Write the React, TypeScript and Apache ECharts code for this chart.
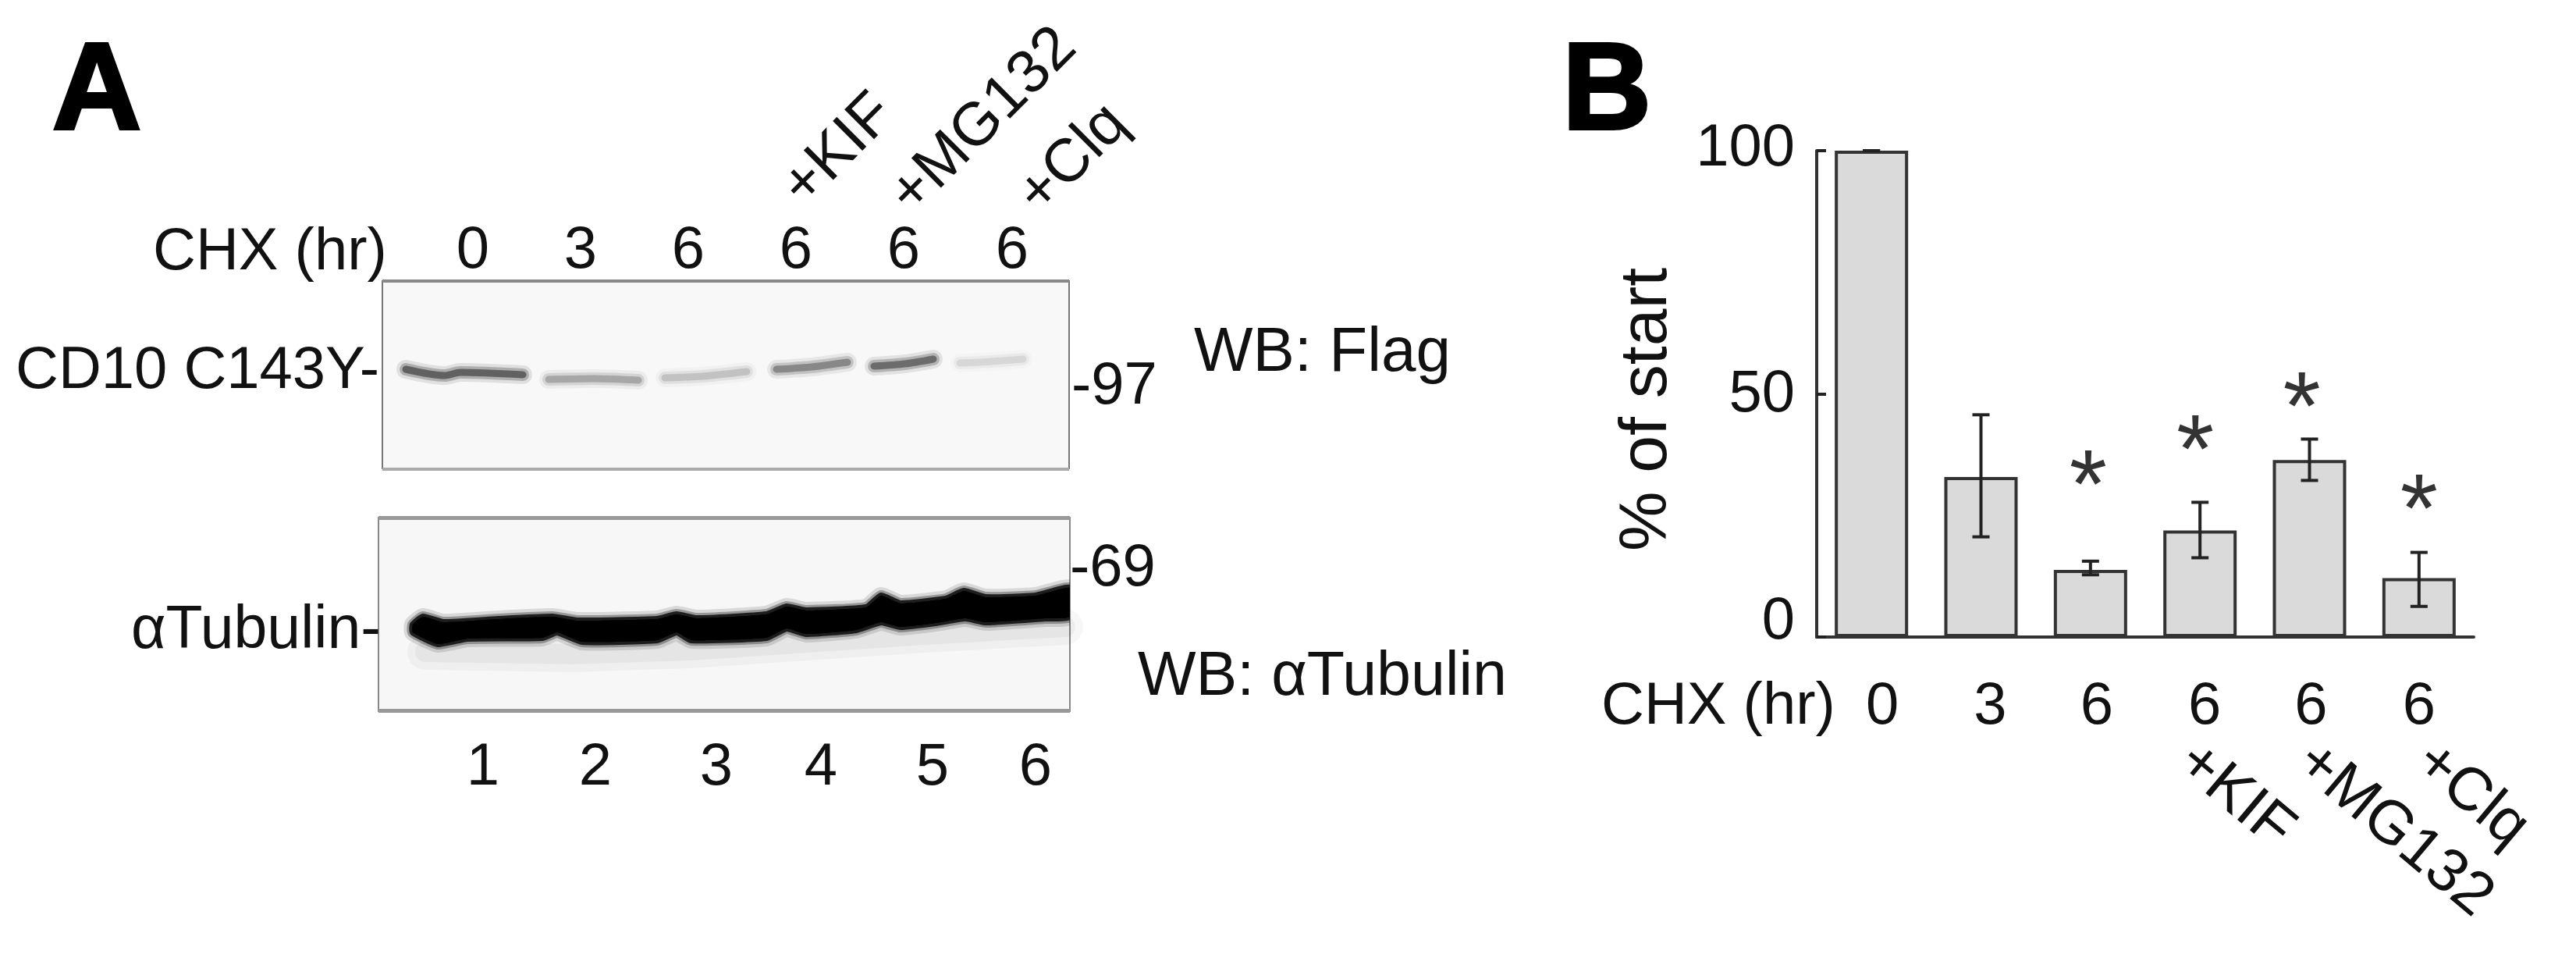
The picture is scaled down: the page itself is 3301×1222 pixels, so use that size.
import React, { useEffect, useRef } from "react";
import * as echarts from "echarts";

// Panel B data
const chxCategories = ["0", "3", "6", "6", "6", "6"];
const meanPercent = [100, 32.9, 13.8, 21.9, 36.4, 12.1];
const errLow = [100, 20.6, 12.8, 16.3, 32.2, 6.3];
const errHigh = [100, 45.7, 15.6, 27.7, 40.7, 17.4];
const starValues = [null, null, 34.7, 41.9, 50.7, 29.7];
const yTicks = [0, 50, 100];
const bottomTreatments = ["+KIF", "+MG132", "+Clq"];

// Panel A texts
const laneTimes = ["0", "3", "6", "6", "6", "6"];
const laneNumbers = ["1", "2", "3", "4", "5", "6"];
const topTreatments = ["+KIF", "+MG132", "+Clq"];

// Panel A bands: [position along blot, migration] read from the blot
const flagLanes = [
  [[30, 113], [80, 121], [100, 117], [180, 120]],
  [[213, 126], [270, 125], [328, 127]],
  [[362, 124], [410, 122], [467, 116]],
  [[505, 113], [550, 110], [596, 104]],
  [[630, 109], [670, 106], [706, 100]],
  [[740, 105], [780, 103], [821, 100]],
];
const flagLaneDarkness = [0.8, 0.38, 0.24, 0.55, 0.72, 0.14];
const tubulinOutline = [
  [44, 137], [57, 127], [83, 134], [153, 130], [223, 127], [255, 132], [357, 130], [382, 124], [408, 129], [497, 124],
  [523, 114], [548, 119], [625, 115], [644, 100], [669, 110], [727, 104], [750, 94], [778, 102], [842, 100], [886, 90],
  [886, 127], [854, 129], [778, 134], [752, 129], [714, 135], [669, 140], [644, 134], [612, 144], [548, 149], [523, 142],
  [497, 154], [401, 157], [382, 147], [357, 157], [261, 159], [229, 147], [210, 154], [114, 155], [76, 162], [44, 147],
];
const tubulinSmear = [[60, 172], [250, 175], [400, 170], [550, 160], [700, 150], [880, 140]];

const FONT = '"Liberation Sans", Arial, sans-serif';
const INK = "#111";

const txt = (text: string, x: number, y: number, size = 76, align = "left", rotation = 0, extra: any = {}) => ({
  type: "text",
  x,
  y,
  rotation,
  silent: true,
  style: {
    text,
    fill: extra.fill || INK,
    font: `${extra.weight || "normal"} ${size}px ${FONT}`,
    textAlign: align,
    textVerticalAlign: "middle",
    align,
    verticalAlign: "middle",
    ...(extra.stroke ? { stroke: extra.fill || INK, lineWidth: extra.stroke } : {}),
  },
});

const laneTimeX = [606, 744, 882, 1020, 1158, 1297];
const laneNumberX = [619, 763, 918, 1052, 1195, 1327];
const topTreatmentPos = [[1012, 248], [1150, 258], [1314, 258]];
const bottomTreatmentPos = [[2804, 962], [2956, 962], [3108, 962]];
const labelShift = [14, 12, 8, 6, 2, 0];
const yLabelLift: Record<string, number> = { "0": 50, "50": 8, "100": 16 };
const starShift = [0, 0, -3, -6, -10, 0];

const graphicEls: any[] = [
  txt("A", 67, 110, 158, "left", 0, { weight: "bold", stroke: 4, fill: "#000" }),
  txt("B", 2002, 110, 158, "left", 0, { weight: "bold", stroke: 4, fill: "#000" }),
  txt("CHX (hr)", 196, 318),
  ...laneTimes.map((t, i) => txt(t, laneTimeX[i], 316, 76, "center")),
  ...topTreatments.map((t, i) => txt(t, topTreatmentPos[i][0], topTreatmentPos[i][1], 78, "left", Math.PI / 4)),
  txt("CD10 C143Y-", 20, 470, 76),
  txt("-97", 1373, 490),
  txt("WB: Flag", 1530, 447, 80),
  txt("αTubulin-", 168, 803, 77),
  txt("-69", 1371, 723),
  txt("WB: αTubulin", 1458, 862, 79),
  ...laneNumbers.map((t, i) => txt(t, laneNumberX[i], 978, 76, "center")),
  txt("CHX (hr)", 2052, 900),
  ...bottomTreatments.map((t, i) =>
    txt(t, bottomTreatmentPos[i][0], bottomTreatmentPos[i][1], 78, "left", (-40 * Math.PI) / 180)
  ),
  { type: "rect", silent: true, shape: { x: 490, y: 358, width: 880, height: 4 }, style: { fill: "#888" } },
  { type: "rect", silent: true, shape: { x: 490, y: 599, width: 880, height: 4 }, style: { fill: "#aaa" } },
  { type: "rect", silent: true, shape: { x: 485, y: 661, width: 886, height: 5 }, style: { fill: "#999" } },
  { type: "rect", silent: true, shape: { x: 485, y: 908, width: 886, height: 5 }, style: { fill: "#999" } },
];

const hiddenAxis = (gridIndex: number, max: number, inverse = false) => ({
  type: "value",
  gridIndex,
  min: 0,
  max,
  inverse,
  show: false,
});

// soft edges: a band is stacked from three strokes of rising darkness
const softLayers = [
  { width: 24, alpha: 0.12 },
  { width: 16, alpha: 0.28 },
  { width: 9, alpha: 0.55 },
];

export default function App() {
  const ref = useRef<HTMLDivElement>(null);
  useEffect(() => {
    document.body.style.margin = "0";
    const chart = echarts.init(ref.current!, null, { renderer: "svg" });
    const rich: any = {};
    labelShift.forEach((s, i) => {
      rich["l" + i] = { fontFamily: FONT, fontSize: 76, color: INK, padding: [0, 0, 0, 2 * s] };
    });
    yTicks.forEach((t) => {
      rich["y" + t] = { fontFamily: FONT, fontSize: 76, color: INK, padding: [0, 0, yLabelLift[String(t)], 0] };
    });
    chart.setOption({
      animation: false,
      backgroundColor: "#fff",
      textStyle: { fontFamily: FONT },
      graphic: { elements: graphicEls },
      grid: [
        { left: 2328, top: 193, width: 842, height: 623, containLabel: false },
        { left: 490, top: 360, width: 880, height: 240, show: true, backgroundColor: "#f8f8f8", borderColor: "#777", borderWidth: 2 },
        { left: 485, top: 663, width: 886, height: 248, show: true, backgroundColor: "#f7f7f7", borderColor: "#888", borderWidth: 2 },
      ],
      xAxis: [
        {
          type: "category",
          gridIndex: 0,
          data: chxCategories,
          axisLine: { lineStyle: { color: "#333", width: 4 } },
          axisTick: { show: false },
          axisLabel: {
            margin: 46,
            interval: 0,
            formatter: (v: string, i: number) => `{l${i}|${v}}`,
            rich,
          },
        },
        hiddenAxis(1, 880),
        hiddenAxis(2, 886),
      ],
      yAxis: [
        {
          type: "value",
          gridIndex: 0,
          min: 0,
          max: 100,
          interval: 50,
          name: "% of start",
          nameLocation: "middle",
          nameGap: 180,
          nameRotate: 90,
          nameTextStyle: { fontFamily: FONT, fontSize: 86, color: INK, padding: [0, 40, 0, 0] },
          axisLine: { show: true, lineStyle: { color: "#333", width: 4 } },
          axisTick: { show: true, inside: true, length: 12, lineStyle: { color: "#222", width: 4 } },
          splitLine: { show: false },
          axisLabel: {
            margin: 28,
            formatter: (v: number) => `{y${v}|${v}}`,
            rich,
          },
        },
        hiddenAxis(1, 240, true),
        hiddenAxis(2, 248, true),
      ],
      series: [
        {
          type: "bar",
          xAxisIndex: 0,
          yAxisIndex: 0,
          data: meanPercent,
          barWidth: 94,
          itemStyle: { color: "#dadada", borderColor: "#333", borderWidth: 4 },
        },
        {
          type: "custom",
          xAxisIndex: 0,
          yAxisIndex: 0,
          z: 5,
          data: errLow.map((l, i) => [i, l, errHigh[i]]),
          encode: { x: 0, y: [1, 2] },
          renderItem: (_p: any, api: any) => {
            const i = api.value(0);
            const lo = api.coord([i, api.value(1)]);
            const hi = api.coord([i, api.value(2)]);
            const cap = 11;
            const st = { stroke: "#222", lineWidth: 4, fill: "none" };
            return {
              type: "group",
              children: [
                { type: "line", shape: { x1: lo[0], y1: lo[1], x2: hi[0], y2: hi[1] }, style: st },
                { type: "line", shape: { x1: lo[0] - cap, y1: lo[1], x2: lo[0] + cap, y2: lo[1] }, style: st },
                { type: "line", shape: { x1: hi[0] - cap, y1: hi[1], x2: hi[0] + cap, y2: hi[1] }, style: st },
              ],
            };
          },
        },
        {
          type: "scatter",
          xAxisIndex: 0,
          yAxisIndex: 0,
          symbolSize: 2,
          itemStyle: { color: "transparent" },
          z: 6,
          data: starValues.map((v, i) =>
            v === null
              ? { value: [i, "-"] }
              : {
                  value: [i, v],
                  label: {
                    show: true,
                    formatter: "*",
                    position: "inside",
                    fontFamily: FONT,
                    fontSize: 124,
                    color: "#000",
                    offset: [starShift[i], 20],
                  },
                }
          ),
        },
        ...flagLanes.flatMap((lane, i) =>
          softLayers.map((layer) => ({
            type: "line",
            xAxisIndex: 1,
            yAxisIndex: 1,
            data: lane,
            symbol: "none",
            smooth: 0.3,
            lineStyle: {
              color: `rgba(0,0,0,${(layer.alpha * flagLaneDarkness[i]).toFixed(3)})`,
              width: layer.width,
              cap: "round",
            },
          }))
        ),
        ...[
          { width: 46, alpha: 0.03 },
          { width: 26, alpha: 0.04 },
        ].map((layer) => ({
          type: "line",
          xAxisIndex: 2,
          yAxisIndex: 2,
          data: tubulinSmear,
          symbol: "none",
          lineStyle: { color: `rgba(0,0,0,${layer.alpha})`, width: layer.width, cap: "round" },
        })),
        ...[
          { stroke: 22, alpha: 0.12 },
          { stroke: 14, alpha: 0.3 },
          { stroke: 8, alpha: 0.8 },
          { stroke: 0, alpha: 1 },
        ].map((layer) => ({
          type: "custom",
          xAxisIndex: 2,
          yAxisIndex: 2,
          z: 4,
          data: tubulinOutline,
          encode: { x: 0, y: 1 },
          clip: true,
          renderItem: (p: any, api: any) => {
            if (p.dataIndex !== 0) return null;
            return {
              type: "polygon",
              shape: { points: tubulinOutline.map((pt) => api.coord(pt)), smooth: 0.15 },
              style: {
                fill: `rgba(0,0,0,${layer.alpha})`,
                stroke: layer.stroke ? `rgba(0,0,0,${layer.alpha})` : "none",
                lineWidth: layer.stroke,
                lineJoin: "round",
              },
            };
          },
        })),
      ],
    });
    return () => chart.dispose();
  }, []);
  return <div ref={ref} style={{ width: 3301, height: 1222 }} />;
}
